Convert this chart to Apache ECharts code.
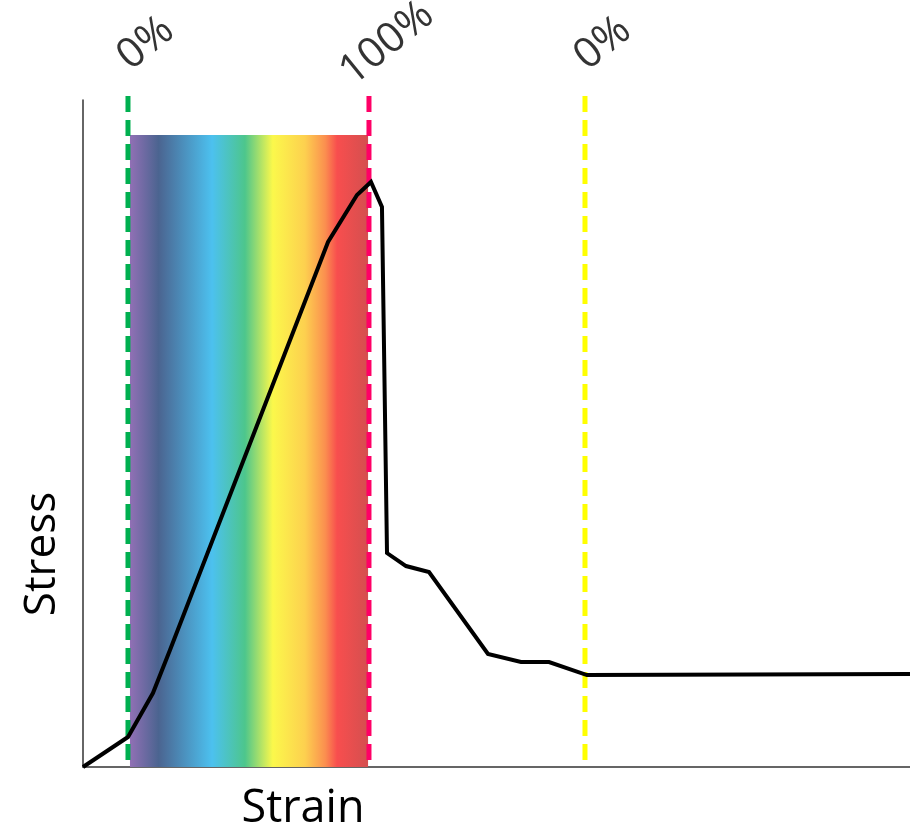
<!DOCTYPE html>
<html>
<head>
<meta charset="utf-8">
<script src="https://cdn.jsdelivr.net/npm/echarts@6/dist/echarts.min.js"></script>
<style>
html,body{margin:0;padding:0;background:#fff;}
#chart{width:910px;height:833px;}
</style>
</head>
<body>
<div id="chart"></div>
<script>
// Stress-strain curve (arbitrary units, 0-100 on both axes)
const strainValues = [0, 5.44, 8.46, 10.52, 29.63, 33.13, 34.82, 36.15, 36.76, 39.06, 41.84, 48.97, 52.96, 56.35, 60.94, 100];
const stressValues = [0, 4.50, 11.09, 17.54, 78.71, 85.76, 87.71, 83.96, 32.08, 30.13, 29.24, 16.94, 15.74, 15.74, 13.79, 13.94];

// Vertical dashed markers
const markerStrain = [5.44, 34.58, 60.70];
const markerLabels = ['0%', '100%', '0%'];
const markerColors = ['#00b050', '#ff0066', '#ffff00'];
const markerTop = 100.6;
const markerBottom = 0;
const labelLevel = 106.3;

// Rainbow band
const bandStart = 5.68;
const bandEnd = 34.47;
const bandTop = 94.75;
const bandStops = [
  [0.00, '#9170b5'],
  [0.12, '#4b6490'],
  [0.345, '#4cc1ef'],
  [0.483, '#4dc68c'],
  [0.60, '#fbf84b'],
  [0.735, '#fdd04f'],
  [0.82, '#fb8f4f'],
  [0.87, '#f84e4e'],
  [1.00, '#d44f4f']
];

const axisNames = { x: 'Strain', y: 'Stress' };

const chart = echarts.init(document.getElementById('chart'), null, { renderer: 'canvas' });

const series = [];
// band
series.push({
  type: 'line',
  data: [],
  silent: true,
  z: 1,
  markArea: {
    silent: true,
    itemStyle: {
      color: new echarts.graphic.LinearGradient(0, 0, 1, 0,
        bandStops.map(s => ({ offset: s[0], color: s[1] }))),
      opacity: 1
    },
    data: [[{ coord: [bandStart, 0] }, { coord: [bandEnd, bandTop] }]]
  }
});
// dashed markers
markerStrain.forEach((x, i) => {
  series.push({
    type: 'line',
    data: [[x, markerTop], [x, markerBottom]],
    symbol: 'none',
    clip: false,
    silent: true,
    z: 3,
    lineStyle: { color: markerColors[i], width: 5, type: [16, 8] }
  });
});
// curve
series.push({
  type: 'line',
  data: strainValues.map((x, i) => [x, stressValues[i]]),
  symbol: 'none',
  clip: false,
  z: 4,
  lineStyle: { color: '#000', width: 4, join: 'miter' }
});
// marker labels
series.push({
  type: 'scatter',
  symbolSize: 0,
  clip: false,
  silent: true,
  z: 5,
  data: markerStrain.map((x, i) => ({ value: [x, labelLevel], name: markerLabels[i] })),
  label: {
    show: true,
    position: 'inside',
    offset: [23, 0],
    rotate: 39,
    formatter: p => p.name,
    fontFamily: 'Open Sans',
    fontWeight: 'normal',
    fontSize: 42,
    color: '#000'
  }
});

chart.setOption({
  animation: false,
  backgroundColor: '#fff',
  grid: { left: 83, right: 0, top: 100, bottom: 66, containLabel: false },
  xAxis: {
    type: 'value', min: 0, max: 100,
    axisLine: { show: true, onZero: false, lineStyle: { color: '#333', width: 1.5 } },
    axisTick: { show: false }, axisLabel: { show: false }, splitLine: { show: false }
  },
  yAxis: {
    type: 'value', min: 0, max: 100,
    axisLine: { show: true, onZero: false, lineStyle: { color: '#333', width: 1.5 } },
    axisTick: { show: false }, axisLabel: { show: false }, splitLine: { show: false }
  },
  graphic: [
    {
      type: 'text', x: 303, y: 809,
      style: { text: axisNames.x, font: '45px "Open Sans"', fill: '#000', align: 'center', verticalAlign: 'middle' }
    },
    {
      type: 'text', x: 42, y: 554, rotation: Math.PI / 2,
      style: { text: axisNames.y, font: '44px "Open Sans"', fill: '#000', align: 'center', verticalAlign: 'middle' }
    }
  ],
  series: series
});
</script>
</body>
</html>
